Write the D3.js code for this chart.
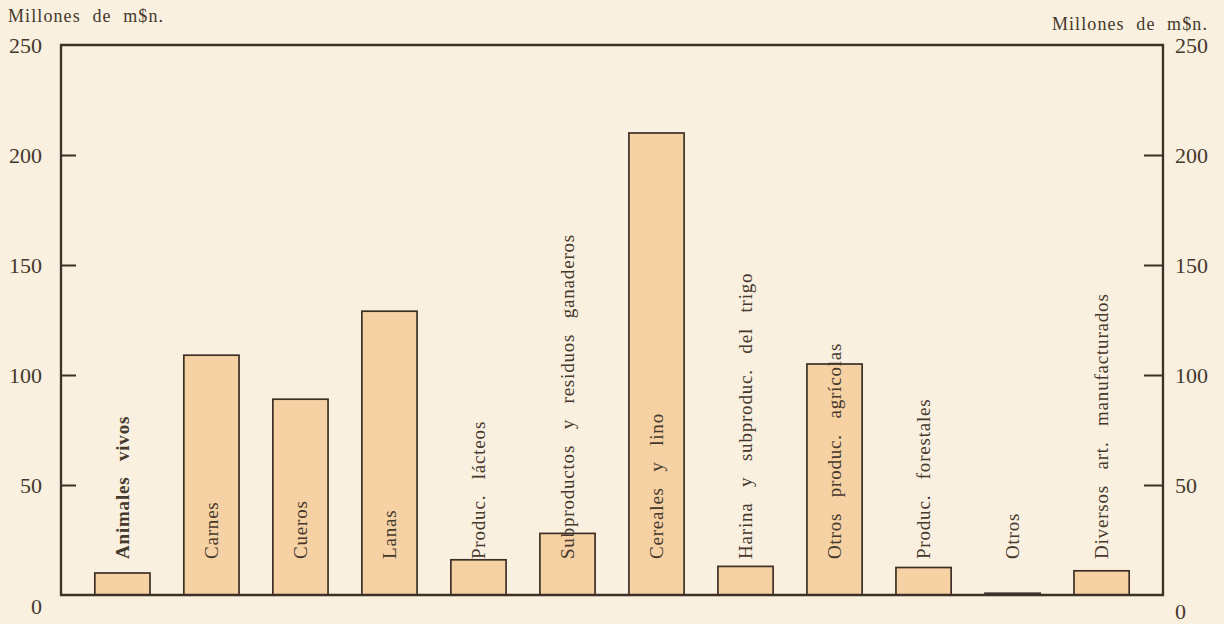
<!DOCTYPE html>
<html>
<head>
<meta charset="utf-8">
<script src="https://cdn.jsdelivr.net/npm/d3@7/dist/d3.min.js"></script>
<style>
  html, body { margin: 0; padding: 0; background: #f9f0df; }
  svg { display: block; }
</style>
</head>
<body>
<svg id="chart" width="1224" height="624"></svg>
<script>
const categories = [
  "Animales vivos", "Carnes", "Cueros", "Lanas", "Produc. lácteos",
  "Subproductos y residuos ganaderos", "Cereales y lino",
  "Harina y subproduc. del trigo", "Otros produc. agrícolas",
  "Produc. forestales", "Otros", "Diversos art. manufacturados"
];
const values = [10, 109, 89, 129, 16, 28, 210, 13, 105, 12.5, 0.8, 11];
const tickValues = [0, 50, 100, 150, 200, 250];
const axisTitle = "Millones de m$n.";

const W = 1224, H = 624;
const plotLeft = 61, plotRight = 1163, plotTop = 45, plotBottom = 595;
const ink = "#3e3027";
const textInk = "#45382d";
const serif = "'Liberation Serif', 'DejaVu Serif', serif";

const svg = d3.select("#chart");
svg.append("rect").attr("width", W).attr("height", H).attr("fill", "#f9f0df");

const x = d3.scaleBand().domain(categories).range([plotLeft, plotRight])
  .paddingInner(0.38).paddingOuter(0.38);
const y = d3.scaleLinear().domain([0, 250]).range([plotBottom, plotTop]);

// bars
svg.append("g").selectAll("rect").data(categories).join("rect")
  .attr("x", d => x(d))
  .attr("y", (d, i) => y(values[i]))
  .attr("width", x.bandwidth())
  .attr("height", (d, i) => y(0) - y(values[i]))
  .attr("fill", "#f5d1a4")
  .attr("stroke", ink)
  .attr("stroke-width", 1.7);

// frame
svg.append("path")
  .attr("d", `M${plotLeft},${plotBottom}V${plotTop}H${plotRight}V${plotBottom}Z`)
  .attr("fill", "none").attr("stroke", ink).attr("stroke-width", 2.3);

// axes
const leftAxis = d3.axisLeft(y).tickValues(tickValues).tickSize(-15).tickPadding(19).tickFormat(d3.format("d"));
const rightAxis = d3.axisRight(y).tickValues(tickValues).tickSize(-19).tickPadding(12).tickFormat(d3.format("d"));

function styleAxis(g, zeroDy) {
  g.select(".domain").remove();
  g.selectAll(".tick line").attr("stroke", ink).attr("stroke-width", 2)
    .filter(d => d === 0 || d === 250).remove();
  g.selectAll(".tick text")
    .attr("font-family", serif).attr("font-size", 22).attr("fill", textInk);
  g.selectAll(".tick text").filter(d => d === 0).attr("dy", zeroDy);
}
svg.append("g").attr("transform", `translate(${plotLeft},0)`).call(leftAxis).call(g => styleAxis(g, "0.85em"));
svg.append("g").attr("transform", `translate(${plotRight},0)`).call(rightAxis).call(g => styleAxis(g, "1.05em"));

// axis titles
svg.append("text").attr("x", 8).attr("y", 22).text(axisTitle)
  .attr("font-family", serif).attr("font-size", 18).attr("fill", textInk).attr("letter-spacing", 1.1).attr("word-spacing", 6);
svg.append("text").attr("x", 1208).attr("y", 30).attr("text-anchor", "end").text(axisTitle)
  .attr("font-family", serif).attr("font-size", 18).attr("fill", textInk).attr("letter-spacing", 1.1).attr("word-spacing", 6);

// category labels (vertical)
const labelBase = y(0) - 36;
svg.append("g").selectAll("text").data(categories).join("text")
  .attr("transform", d => `translate(${x(d) + x.bandwidth() / 2},${labelBase}) rotate(-90)`)
  .attr("dy", "0.35em")
  .attr("font-family", serif)
  .attr("font-size", 19)
  .attr("letter-spacing", 0.8)
  .attr("word-spacing", 10)
  .attr("fill", textInk)
  .attr("font-weight", d => (d === "Animales vivos" ? "bold" : "normal"))
  .text(d => d);
</script>
</body>
</html>
